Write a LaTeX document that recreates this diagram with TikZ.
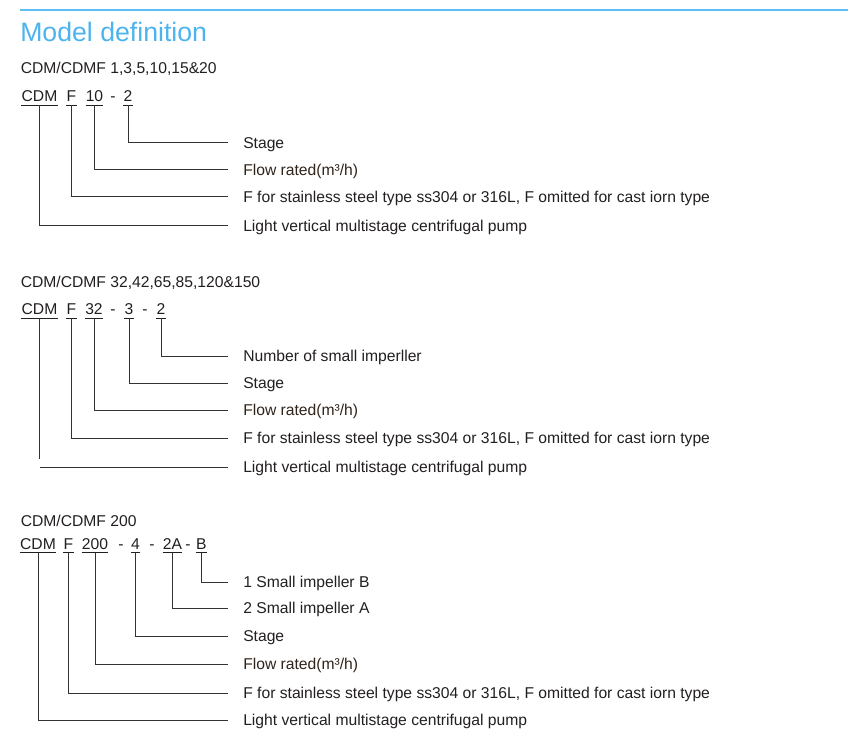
\documentclass[tikz,border=0pt]{standalone}
\usepackage{fontspec}
\setmainfont{Liberation Sans}
\definecolor{txt}{HTML}{231F20}
\definecolor{flow}{HTML}{30241A}
\definecolor{ttl}{HTML}{4DB3EE}
\definecolor{rulec}{HTML}{5BBEF5}
\definecolor{ln}{HTML}{333333}
\begin{document}
\begin{tikzpicture}[x=0.75pt,y=-0.75pt,
  body/.style={font=\fontsize{11.75}{14}\selectfont, text=txt, inner sep=0pt},
  hdr/.style={body, anchor=base west},
  seg/.style={body, anchor=base, text height=8.4pt, text depth=2.6pt},
  lab/.style={body, anchor=west, text height=8.4pt, text depth=0pt},
  conn/.style={draw=ln, line width=0.75pt},
  uline/.style={draw=txt, line width=0.75pt}]
\useasboundingbox (0,0) rectangle (862,748);
% header
\coordinate (r1) at (20,10);
\coordinate (r2) at (848,10);
\draw[draw=rulec, line width=1.2pt] (r1) -- (r2);
\node[anchor=base west, inner sep=0pt, font=\fontsize{20}{24}\selectfont, text=ttl] (title) at (20,42) {Model definition};

% ---------- Section 1 ----------
\node[hdr] (h1) at (20.5,73.5) {CDM/CDMF 1,3,5,10,15\&20};
\node[seg] (a1) at (39.5,101.5) {CDM};
\node[seg] (a2) at (71.5,101.5) {F};
\node[seg] (a3) at (94.5,101.5) {10};
\node[seg] (ad1) at (113,101.5) {-};
\node[seg] (a4) at (128,101.5) {2};
\node[lab] (al1) at (243,143) {Stage};
\node[lab,text=flow] (al2) at (243,170) {Flow rated(m³/h)};
\node[lab] (al3) at (243,197) {F for stainless steel type ss304 or 316L, F omitted for cast iorn type};
\node[lab] (al4) at (243,226) {Light vertical multistage centrifugal pump};
\foreach \n in {a1,a2,a3,a4} \draw[uline] (\n.south west) -- (\n.south east);
\draw[conn] (a4.south) |- ([xshift=-11.25pt]al1.west);
\draw[conn] (a3.south) |- ([xshift=-11.25pt]al2.west);
\draw[conn] (a2.south) |- ([xshift=-11.25pt]al3.west);
\draw[conn] (a1.south) |- ([xshift=-11.25pt]al4.west);

% ---------- Section 2 ----------
\node[hdr] (h2) at (20.5,287.3) {CDM/CDMF 32,42,65,85,120\&150};
\node[seg] (b1) at (39.5,314.3) {CDM};
\node[seg] (b2) at (71.5,314.3) {F};
\node[seg] (b3) at (94,314.3) {32};
\node[seg] (bd1) at (113,314.3) {-};
\node[seg] (b4) at (129,314.3) {3};
\node[seg] (bd2) at (145,314.3) {-};
\node[seg] (b5) at (161,314.3) {2};
\node[lab] (bl1) at (243,356) {Number of small imperller};
\node[lab] (bl2) at (243,383) {Stage};
\node[lab,text=flow] (bl3) at (243,410) {Flow rated(m³/h)};
\node[lab] (bl4) at (243,438) {F for stainless steel type ss304 or 316L, F omitted for cast iorn type};
\node[lab] (bl5) at (243,467) {Light vertical multistage centrifugal pump};
\foreach \n in {b1,b2,b3,b4,b5} \draw[uline] (\n.south west) -- (\n.south east);
\draw[conn] (b5.south) |- ([xshift=-11.25pt]bl1.west);
\draw[conn] (b4.south) |- ([xshift=-11.25pt]bl2.west);
\draw[conn] (b3.south) |- ([xshift=-11.25pt]bl3.west);
\draw[conn] (b2.south) |- ([xshift=-11.25pt]bl4.west);
\draw[conn] (b1.south) -- ([yshift=6pt]b1.south |- bl5.west);
\draw[conn] (b1.south |- bl5.west) -- ([xshift=-11.25pt]bl5.west);

% ---------- Section 3 ----------
\node[hdr] (h3) at (20.5,526) {CDM/CDMF 200};
\node[seg] (c1) at (38,549) {CDM};
\node[seg] (c2) at (68.5,549) {F};
\node[seg] (c3) at (95,549) {200};
\node[seg] (cd1) at (121,549) {-};
\node[seg] (c4) at (135.5,549) {4};
\node[seg] (cd2) at (152,549) {-};
\node[seg] (c5) at (172.5,549) {2A};
\node[seg] (cd3) at (188,549) {-};
\node[seg] (c6) at (201.3,549) {B};
\node[lab] (cl1) at (243,582) {1 Small impeller B};
\node[lab] (cl2) at (243,608) {2 Small impeller A};
\node[lab] (cl3) at (243,636) {Stage};
\node[lab,text=flow] (cl4) at (243,664) {Flow rated(m³/h)};
\node[lab] (cl5) at (243,693) {F for stainless steel type ss304 or 316L, F omitted for cast iorn type};
\node[lab] (cl6) at (243,720) {Light vertical multistage centrifugal pump};
\foreach \n in {c1,c2,c3,c4,c5,c6} \draw[uline] (\n.south west) -- (\n.south east);
\draw[conn] (c6.south) |- ([xshift=-11.25pt]cl1.west);
\draw[conn] (c5.south) |- ([xshift=-11.25pt]cl2.west);
\draw[conn] (c4.south) |- ([xshift=-11.25pt]cl3.west);
\draw[conn] (c3.south) |- ([xshift=-11.25pt]cl4.west);
\draw[conn] (c2.south) |- ([xshift=-11.25pt]cl5.west);
\draw[conn] (c1.south) |- ([xshift=-11.25pt]cl6.west);
\end{tikzpicture}
\end{document}
